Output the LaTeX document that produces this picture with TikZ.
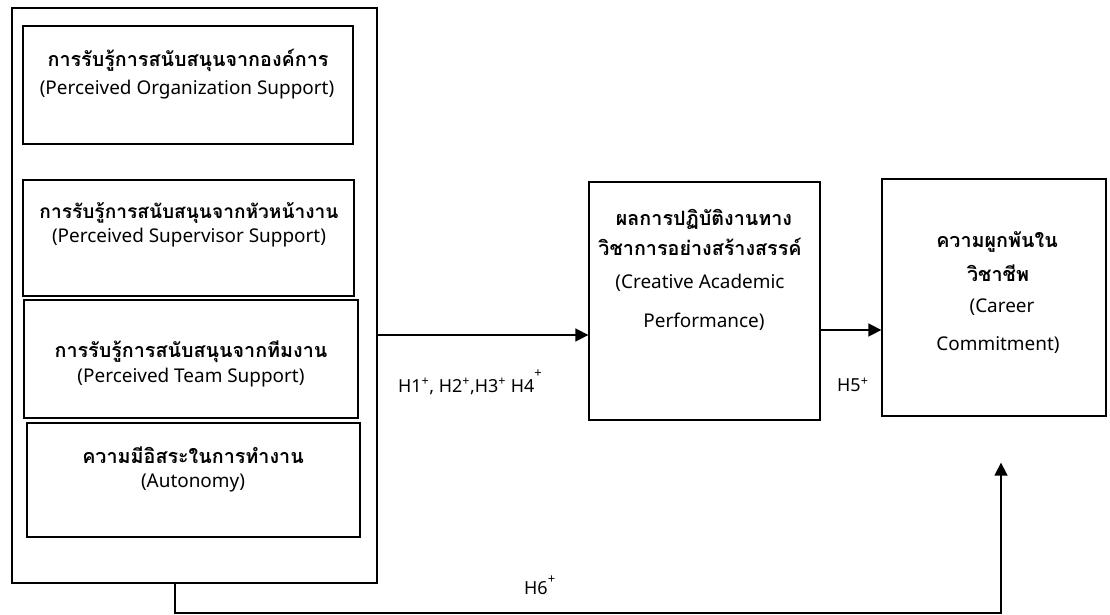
\documentclass[tikz,border=0pt]{standalone}
\usepackage{fontspec}
\setmainfont{Noto Sans}
\newfontfamily\thai[Script=Thai]{Loma}
\usetikzlibrary{arrows.meta}
\begin{document}
\begin{tikzpicture}[x=1bp,y=-1bp,
  box/.style={draw, line width=1.3bp, inner sep=0pt},
  th/.style={font=\thai\bfseries\fontsize{19.8}{24}\selectfont, inner sep=0pt},
  en/.style={font=\fontsize{19}{22}\selectfont, inner sep=0pt},
  lbl/.style={font=\fontsize{18}{20}\selectfont, inner sep=0pt, anchor=west},
  conn/.style={line width=1.6bp, -{Triangle[length=13bp,width=13bp]}}]
\useasboundingbox (0,0) rectangle (1110,615);
% boxes
\node[box, minimum width=365bp, minimum height=575bp] (outer) at (194.5,295.5) {};
\node[box, minimum width=330bp, minimum height=118bp] (b1) at (188,85) {};
\node[box, minimum width=331bp, minimum height=116bp] (b2) at (188.5,238) {};
\node[box, minimum width=334bp, minimum height=118bp] (b3) at (191,359) {};
\node[box, minimum width=333bp, minimum height=114bp] (b4) at (193.5,480) {};
\node[box, minimum width=231bp, minimum height=238bp] (mid) at (704.5,301) {};
\node[box, minimum width=224bp, minimum height=237bp] (car) at (994,297.5) {};
% texts
\node[th] (t1a) at (188,60) {การรับรู้การสนับสนุนจากองค์การ};
\node[en] (t1b) at (187,90) {(Perceived Organization Support)};
\node[th, font=\thai\bfseries\fontsize{19.2}{24}\selectfont] (t2a) at (189,213) {การรับรู้การสนับสนุนจากหัวหน้างาน};
\node[en] (t2b) at (189,238) {(Perceived Supervisor Support)};
\node[th] (t3a) at (191,352) {การรับรู้การสนับสนุนจากทีมงาน};
\node[en] (t3b) at (191,378) {(Perceived Team Support)};
\node[th] (t4a) at (193,455) {ความมีอิสระในการทำงาน};
\node[en] (t4b) at (193,483) {(Autonomy)};
\node[th] (m1) at (704,219) {ผลการปฏิบัติงานทาง};
\node[th] (m2) at (700,247) {วิชาการอย่างสร้างสรรค์};
\node[en] (m3) at (700,283) {(Creative Academic};
\node[en] (m4) at (704,322) {Performance)};
\node[th] (c1) at (997,242) {ความผูกพันใน};
\node[th] (c2) at (998,273) {วิชาชีพ};
\node[en] (c3) at (1002,307) {(Career};
\node[en] (c4) at (998,345) {Commitment)};
% labels
\node[lbl] (h14) at (398,382) {H1\textsuperscript{+}, H2\textsuperscript{+},H3\textsuperscript{+} H4\raisebox{15bp}{\fontsize{13}{13}\selectfont +}};
\node[lbl] (h5) at (837,385) {H5\textsuperscript{+}};
\node[lbl] (h6) at (524,585) {H6\raisebox{11bp}{\fontsize{13}{13}\selectfont +}};
% connectors
\coordinate (y1) at (0,335);
\coordinate (y2) at (0,330);
\coordinate (v1) at (175,613);
\coordinate (v2) at (1001,613);
\draw[conn] (outer.east |- y1) -- (mid.west |- y1);
\draw[conn] (mid.east |- y2) -- (car.west |- y2);
\draw[conn, shorten >=46bp] (outer.south -| v1) -- (v1) -- (v2) -- (car.south -| v2);
\end{tikzpicture}
\end{document}
